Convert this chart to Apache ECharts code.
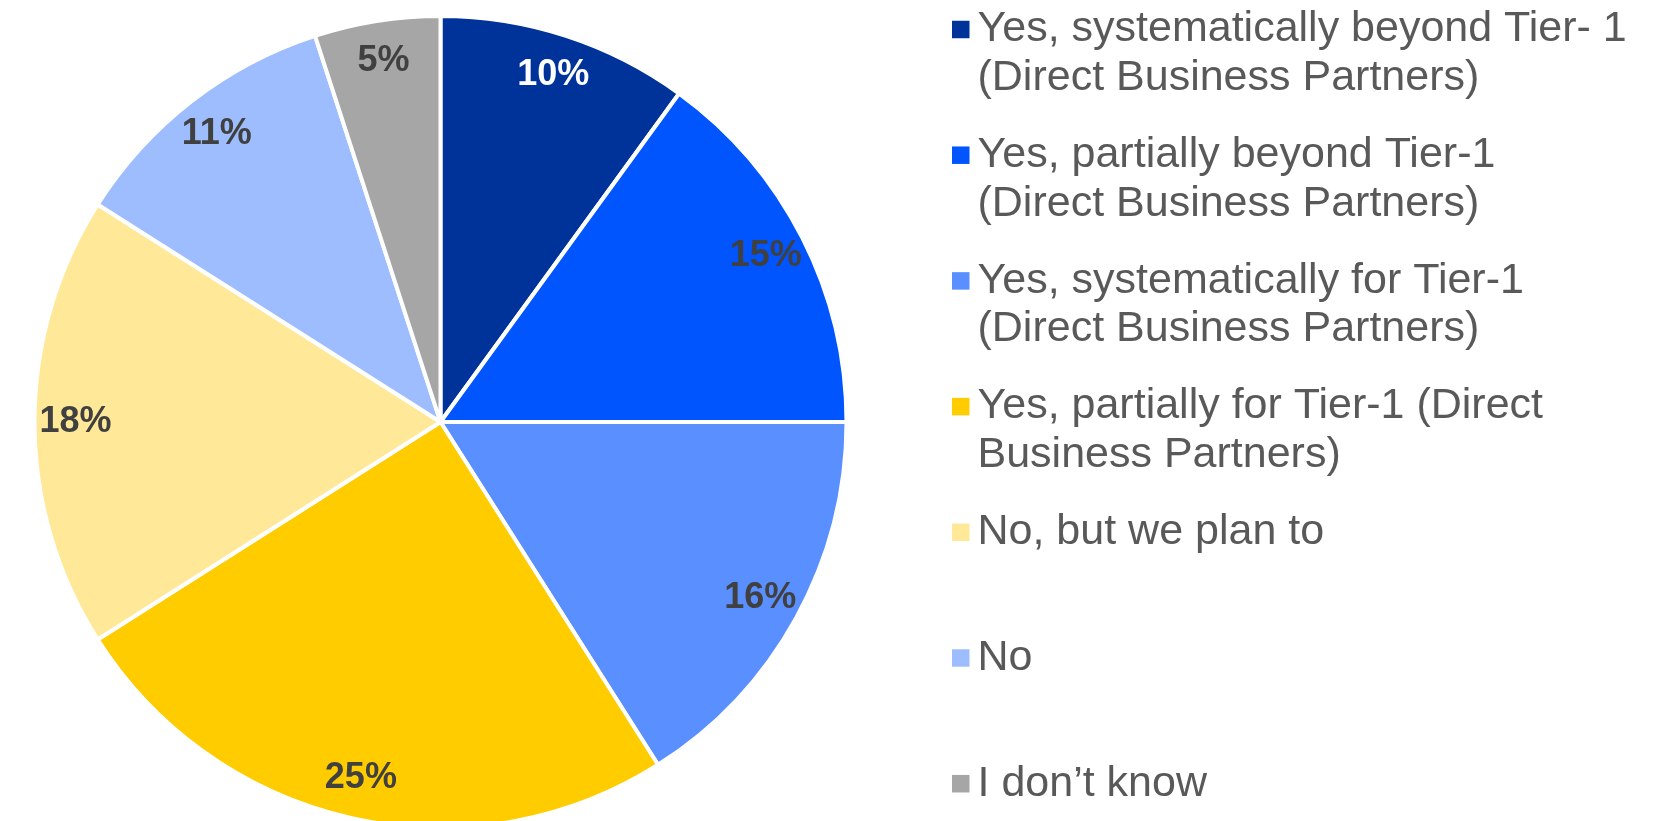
<!DOCTYPE html>
<html>
<head>
<meta charset="utf-8">
<title>Supplier assessment coverage</title>
<script src="https://cdn.jsdelivr.net/npm/echarts@6/dist/echarts.min.js"></script>
<style>
  html, body { margin: 0; padding: 0; background: #ffffff; }
  #chart { width: 1672px; height: 821px; }
</style>
</head>
<body>
<div id="chart"></div>
<script>
// Survey answers, in clockwise order from 12 o'clock
const categories = [
  'Yes, systematically beyond Tier- 1\n(Direct Business Partners)',
  'Yes, partially beyond Tier-1\n(Direct Business Partners)',
  'Yes, systematically for Tier-1\n(Direct Business Partners)',
  'Yes, partially for Tier-1 (Direct\nBusiness Partners)',
  'No, but we plan to',
  'No',
  'I don\u2019t know'
];
// Share of respondents, percent
const shares = [10, 15, 16, 25, 18, 11, 5];
const sliceColors = ['#003399', '#0055FF', '#5A8FFF', '#FFCC00', '#FFE999', '#9DBDFF', '#A6A6A6'];
const labelColors = ['#FFFFFF', '#404040', '#404040', '#404040', '#404040', '#404040', '#404040'];

const FONT = '"Liberation Sans", Arial, sans-serif';
const LINE_H = 48.5;
const LEGEND_FIRST_Y = 29.5;   // centre of the first marker
const LEGEND_PITCH = 125.7;    // marker-to-marker spacing

const pieData = categories.map((name, i) => ({
  name,
  value: shares[i],
  itemStyle: { color: sliceColors[i] }
}));

// Label ring: same slices, transparent, so the percentages sit near the rim
const labelRingData = categories.map((name, i) => ({
  name,
  value: shares[i],
  label: { color: labelColors[i] }
}));

// One legend block per answer. The marker is centred on the text block, so a
// leading blank line puts the first line of a two-line entry beside the marker.
const legends = categories.map((name, i) => {
  const lines = name.split('\n').length;
  const blockLines = lines > 1 ? 2 * lines - 1 : 1;
  return {
    orient: 'vertical',
    left: 952,
    top: LEGEND_FIRST_Y + i * LEGEND_PITCH - blockLines * LINE_H / 2,
    padding: 0,
    itemWidth: 17.5,
    itemHeight: 17.5,
    icon: 'rect',
    selectedMode: false,
    itemStyle: { borderWidth: 0 },
    data: [name],
    formatter: (n) => (lines > 1 ? ' \n'.repeat(lines - 1) + n : n),
    textStyle: {
      fontFamily: FONT,
      fontSize: 43,
      lineHeight: LINE_H,
      color: '#595959',
      padding: [0, 0, 0, 3],
      backgroundColor: 'rgba(255,255,255,0)'
    }
  };
});

const chart = echarts.init(document.getElementById('chart'), null, { renderer: 'canvas' });
chart.setOption({
  backgroundColor: '#ffffff',
  animation: false,
  legend: legends,
  series: [
    {
      name: 'share',
      type: 'pie',
      center: [440.5, 422],
      radius: [0, 406],
      startAngle: 90,
      clockwise: true,
      silent: true,
      label: { show: false },
      labelLine: { show: false },
      itemStyle: { borderColor: '#ffffff', borderWidth: 4 },
      data: pieData
    },
    {
      name: 'labels',
      type: 'pie',
      center: [440.5, 422],
      radius: [318, 406],
      startAngle: 90,
      clockwise: true,
      silent: true,
      itemStyle: { color: 'rgba(0,0,0,0)', borderWidth: 0 },
      labelLine: { show: false },
      label: {
        show: true,
        position: 'inside',
        formatter: '{c}%',
        fontFamily: FONT,
        fontWeight: 'bold',
        fontSize: 36
      },
      data: labelRingData
    }
  ]
});
</script>
</body>
</html>
